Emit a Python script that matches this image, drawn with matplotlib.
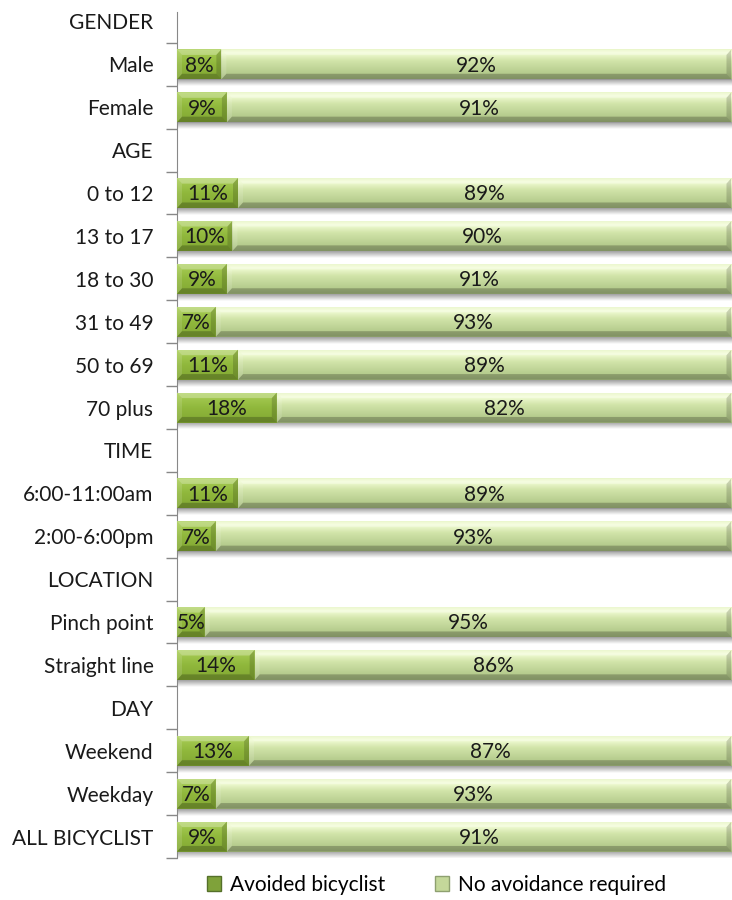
import numpy as np
import matplotlib.pyplot as plt
from matplotlib.colors import LinearSegmentedColormap
from matplotlib.patches import Patch

plt.rcParams['font.family'] = ['Lato', 'DejaVu Sans']

labels = ['GENDER', 'Male', 'Female', 'AGE', '0 to 12', '13 to 17', '18 to 30',
          '31 to 49', '50 to 69', '70 plus', 'TIME', '6:00-11:00am', '2:00-6:00pm',
          'LOCATION', 'Pinch point', 'Straight line', 'DAY', 'Weekend', 'Weekday',
          'ALL BICYCLIST']
avoided = [None, 8, 9, None, 11, 10, 9, 7, 11, 18, None, 11, 7, None, 5, 14, None, 13, 7, 9]
no_avoid = [None, 92, 91, None, 89, 90, 91, 93, 89, 82, None, 89, 93, None, 95, 86, None, 87, 93, 91]

dark_cmap = LinearSegmentedColormap.from_list('dark', [
    (0.0, '#acd05a'), (0.5, '#90b83c'), (1.0, '#82a733')])
light_cmap = LinearSegmentedColormap.from_list('light', [
    (0.0, '#e2f3b8'), (0.15, '#f2fcd6'), (0.4, '#d2e5aa'), (0.8, '#b6cc8e'), (1.0, '#a6bb80')])
shadow_cmap = LinearSegmentedColormap.from_list('shadow', ['#a0a0a0', '#ffffff'])
grad = np.linspace(0, 1, 64).reshape(-1, 1)

FS = 15
fig = plt.figure(figsize=(7.32, 9.0), dpi=100)
ax = fig.add_axes([0.2418, 0.0467, 0.7575, 0.9533])


def bevel(ax, x0, x1, yt, yb, bx=0.9, by=0.13):
    # light top/left, dark bottom/right faces around the bar
    faces = [([x0, x1, x1 - bx, x0 + bx], [yt, yt, yt + by, yt + by], 'white', 0.28),
             ([x0, x1, x1 - bx, x0 + bx], [yb, yb, yb - by, yb - by], 'black', 0.22),
             ([x0, x0 + bx, x0 + bx, x0], [yt, yt + by, yb - by, yb], 'white', 0.12),
             ([x1, x1 - bx, x1 - bx, x1], [yt, yt + by, yb - by, yb], 'black', 0.16)]
    for xs, ys, c, a in faces:
        ax.fill(xs, ys, color=c, alpha=a, linewidth=0, zorder=4)


y = np.arange(len(labels))
h = 0.7
left_vals = [v if v is not None else 0 for v in avoided]
right_vals = [v if v is not None else 0 for v in no_avoid]
dark_bars = ax.barh(y, left_vals, height=h, color='#90b83c', linewidth=0, zorder=2)
light_bars = ax.barh(y, right_vals, left=left_vals, height=h, color='#c4d89a',
                     linewidth=0, zorder=2)

for i, (bd, bl) in enumerate(zip(dark_bars, light_bars)):
    if avoided[i] is None:
        continue
    for bar, cmap in ((bd, dark_cmap), (bl, light_cmap)):
        x0, y0, w, hh = bar.get_x(), bar.get_y(), bar.get_width(), bar.get_height()
        im = ax.imshow(grad, cmap=cmap, extent=(x0, x0 + w, y0 + hh, y0),
                       origin='upper', aspect='auto', zorder=3)
        im.set_clip_path(bar)
        bevel(ax, x0, x0 + w, y0, y0 + hh)
    x0, y0, hh = bd.get_x(), bd.get_y(), bd.get_height()
    ax.imshow(grad, cmap=shadow_cmap, extent=(x0, 100, y0 + hh + 0.16, y0 + hh),
              origin='upper', aspect='auto', zorder=1)
    ax.text(bd.get_x() + bd.get_width() / 2, y[i] + 0.03, f'{avoided[i]}%',
            ha='center', va='center', fontsize=FS, color='#1a1a1a', zorder=5)
    ax.text(bl.get_x() + bl.get_width() / 2, y[i] + 0.03, f'{no_avoid[i]}%',
            ha='center', va='center', fontsize=FS, color='#1a1a1a', zorder=5)

ax.set_xlim(0, 100)
ax.set_ylim(len(labels) - 0.5, -0.5)
ax.set_yticks(y)
ax.set_yticklabels(labels, fontsize=FS, color='#1a1a1a')
ax.set_yticks(np.arange(0.5, len(labels), 1), minor=True)
ax.tick_params(axis='y', which='major', length=0, pad=17)
ax.tick_params(axis='y', which='minor', length=8, color='#888888', width=1)
ax.set_xticks([])
for side in ('top', 'right', 'bottom'):
    ax.spines[side].set_visible(False)
ax.spines['left'].set_color('#888888')
ax.spines['left'].set_bounds(-0.22, len(labels) - 0.5)

handles = [Patch(facecolor='#7fa23a', edgecolor='#55702a', label='Avoided bicyclist'),
           Patch(facecolor='#c4d89a', edgecolor='#8ea070', label='No avoidance required')]
fig.legend(handles=handles, loc='center', bbox_to_anchor=(0.596, 0.017), ncol=2,
           frameon=False, fontsize=FS, handlelength=0.7, handleheight=0.7,
           handletextpad=0.4, columnspacing=2.4)

fig.savefig('out.png', dpi=100)
